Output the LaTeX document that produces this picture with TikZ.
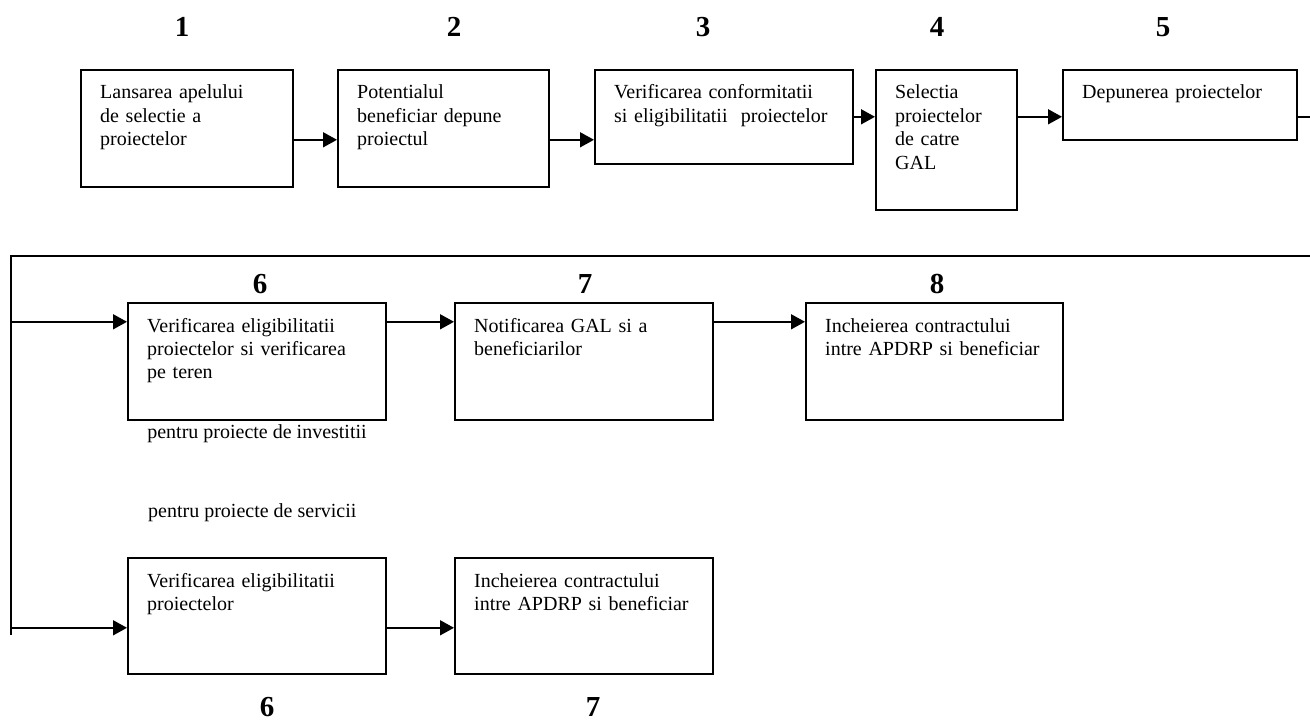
\documentclass[tikz,border=0pt]{standalone}
\usepackage{fontspec}
\setmainfont{Liberation Serif}
\usetikzlibrary{arrows.meta,positioning}

\tikzset{
  stepbox/.style={draw, line width=1.6pt, inner sep=0pt, anchor=north west},
  boxtext/.style={anchor=base west, align=left, text width=236pt, inner sep=0pt,
    xshift=20pt, yshift=-30pt, font=\fontsize{20}{23.5}\selectfont},
  stepnum/.style={anchor=base, inner sep=0pt, font=\fontsize{29}{30}\selectfont\bfseries},
  note/.style={inner sep=0pt, font=\fontsize{20}{23.5}\selectfont},
  flow/.style={line width=1.6pt, -{Triangle[length=14pt,width=15pt]}},
  link/.style={line width=1.6pt}
}

\begin{document}
\begin{tikzpicture}[x=1pt,y=-1pt]
    \useasboundingbox (0,0) rectangle (1310,722);

    % numbers
    \node[stepnum] (n1) at (182,37) {1};
    \node[stepnum] (n2) at (454,37) {2};
    \node[stepnum] (n3) at (703,37) {3};
    \node[stepnum] (n4) at (937,37) {4};
    \node[stepnum] (n5) at (1163,37) {5};
    \node[stepnum] (n6) at (260,294) {6};
    \node[stepnum] (n7) at (585,294) {7};
    \node[stepnum] (n8) at (937,294) {8};
    \node[stepnum] (n6s) at (267,716) {6};
    \node[stepnum] (n7s) at (593,716) {7};

    % first row
    \node[stepbox, minimum width=212, minimum height=117,
      label={[boxtext]north west:Lansarea apelului\\de selectie a\\proiectelor}] (b1) at (80,69) {};
    \node[stepbox, minimum width=211, minimum height=117,
      label={[boxtext]north west:Potentialul\\beneficiar depune\\proiectul}] (b2) at (337,69) {};
    \node[stepbox, minimum width=258, minimum height=94,
      label={[boxtext]north west:Verificarea conformitatii\\si eligibilitatii\ \ proiectelor}] (b3) at (594,69) {};
    \node[stepbox, minimum width=141, minimum height=140,
      label={[boxtext]north west:Selectia\\proiectelor\\de catre\\GAL}] (b4) at (875,69) {};
    \node[stepbox, minimum width=234, minimum height=70,
      label={[boxtext]north west:Depunerea proiectelor}] (b5) at (1062,69) {};

    % investitii
    \node[stepbox, minimum width=258, minimum height=117,
      label={[boxtext]north west:Verificarea eligibilitatii\\proiectelor si verificarea\\pe teren}] (b6) at (127,302) {};
    \node[stepbox, minimum width=258, minimum height=117,
      label={[boxtext]north west:Notificarea GAL si a\\beneficiarilor}] (b7) at (454,302) {};
    \node[stepbox, minimum width=257, minimum height=117,
      label={[boxtext]north west:Incheierea contractului\\intre APDRP si beneficiar}] (b8) at (805,302) {};

    % servicii
    \node[stepbox, minimum width=258, minimum height=116,
      label={[boxtext]north west:Verificarea eligibilitatii\\proiectelor}] (b6s) at (127,557) {};
    \node[stepbox, minimum width=258, minimum height=116,
      label={[boxtext]north west:Incheierea contractului\\intre APDRP si beneficiar}] (b7s) at (454,557) {};

    \node[note, anchor=base] (inv) at (257,438) {pentru proiecte de investitii};
    \node[note, anchor=base west] (srv) at (148,517) {pentru proiecte de servicii};

    % connectors
    \coordinate (rtop) at (1314,115);
    \coordinate (rmid) at (1314,256);
    \coordinate (lmid) at (11,256);
    \coordinate (lbot) at (11,635);
    \coordinate (a6) at ([yshift=39.5pt]b6.west);
    \coordinate (a6s) at ([yshift=-12pt]b6s.west);

    \draw[flow] ([yshift=-11.5pt]b1.east) -- ([yshift=-11.5pt]b1.east -| b2.west);
    \draw[flow] ([yshift=-11.5pt]b2.east) -- ([yshift=-11.5pt]b2.east -| b3.west);
    \draw[flow] (b3.east) -- (b3.east -| b4.west);
    \draw[flow] (b3.east -| b4.east) -- (b3.east -| b5.west);
    \draw[link] (b3.east -| b5.east) -- (b3.east -| rtop);

    \draw[link] (rmid) -- (lmid) -- (lbot);
    \draw[flow] (a6 -| lmid) -- (a6);
    \draw[flow] (a6 -| b6.east) -- (a6 -| b7.west);
    \draw[flow] (a6 -| b7.east) -- (a6 -| b8.west);
    \draw[flow] (a6s -| lmid) -- (a6s);
    \draw[flow] (a6s -| b6s.east) -- (a6s -| b7s.west);

\end{tikzpicture}
\end{document}
